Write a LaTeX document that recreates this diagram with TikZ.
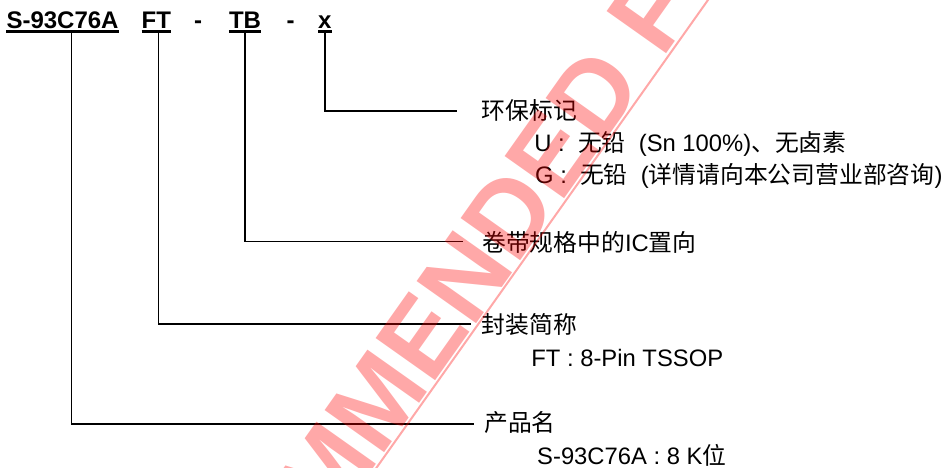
\documentclass[tikz,border=0pt]{standalone}
\usepackage{fontspec}
\setmainfont{Liberation Sans}
\newfontfamily\cjk{Noto Sans CJK SC}
\newcommand\zh[1]{{\cjk #1}}
\begin{document}
\begin{tikzpicture}[x=1pt,y=-1pt,
  title/.style={font=\bfseries\fontsize{24}{24}\selectfont, inner sep=0pt, anchor=base west},
  lbl/.style={font=\fontsize{23.8}{24}\selectfont, inner sep=0pt, anchor=base west},
  conn/.style={line width=1.5pt, line cap=rect},
  uline/.style={line width=2.6pt},
  wmtext/.style={font=\bfseries\fontsize{106}{106}\selectfont, text=red, text opacity=0.34, inner sep=0pt, anchor=base west, rotate=54.7},
  wmline/.style={draw=red, draw opacity=0.34, line width=2pt}]
\useasboundingbox (0,0) rectangle (946,467);
% title
\node[title] (pn) at (6.3,28.3) {S-93C76A};
\node[title] (pk) at (141.5,28.3) {FT};
\node[title] (d1) at (194,28.3) {-};
\node[title] (tp) at (228.8,28.3) {TB};
\node[title] (d2) at (286.5,28.3) {-};
\node[title] (ev) at (318,28.3) {x};
\foreach \n in {pn,pk,tp,ev}
  \draw[uline] ([yshift=-3.4pt]\n.base west) -- ([yshift=-3.4pt]\n.base east);
% labels
\node[lbl] (l1) at (481.5,119.5) {\zh{环保标记}};
\node[lbl] (l1a) at (534.2,151.5) {U~:~~\zh{无铅}~~(Sn 100\%)\zh{、无卤素}};
\node[lbl] (l1b) at (535,183.5) {G~:~~\zh{无铅}~~(\zh{详情请向本公司营业部咨询})};
\node[lbl] (l2) at (482,251) {\zh{卷带规格中的}IC\zh{置向}};
\node[lbl] (l3) at (481.5,333) {\zh{封装简称}};
\node[lbl] (l3a) at (531.2,366.7) {FT : 8-Pin TSSOP};
\node[lbl] (l4) at (484,431) {\zh{产品名}};
\node[lbl] (l4a) at (537,464) {S-93C76A : 8 K\zh{位}};
% connectors
\coordinate (evT) at (325,33);   \coordinate (evE) at (456,111);
\coordinate (tpT) at (245,33);   \coordinate (tpE) at (462,241.7);
\coordinate (pkT) at (158.3,33); \coordinate (pkE) at (470.7,324);
\coordinate (pnT) at (71.7,33);  \coordinate (pnE) at (473,424);
\draw[conn] (evT) |- (evE);
\draw[conn] (tpT) |- (tpE);
\draw[conn] (pkT) |- (pkE);
\draw[conn] (pnT) |- (pnE);
% watermark
\begin{scope}
\clip (0,0) rectangle (946,467);
\node[wmtext] (wm) at (6.1,987.5) {NOT RECOMMENDED FOR NEW DESIGN};
\coordinate (wa) at (716.5,-12);
\coordinate (wb) at (368.5,479);
\draw[wmline] (wa) -- (wb);
\end{scope}
\end{tikzpicture}
\end{document}
